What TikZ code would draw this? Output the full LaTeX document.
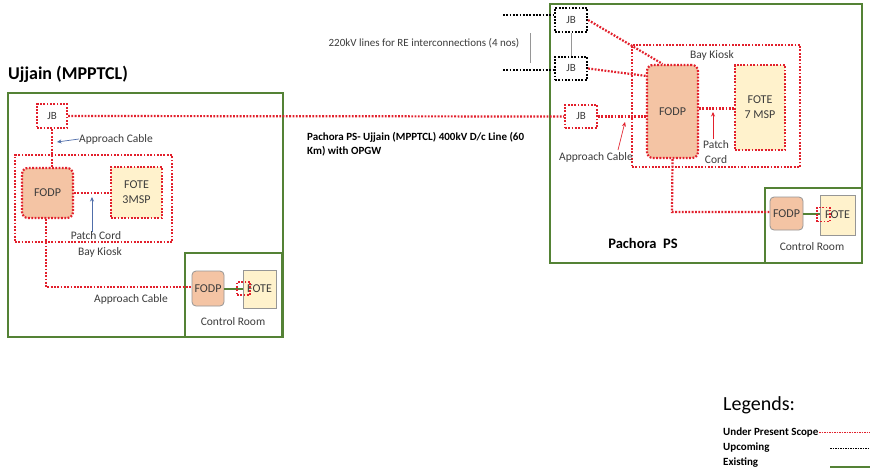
\documentclass[tikz,border=0pt]{standalone}
\usepackage{fontspec}
\setmainfont{Carlito}
\usetikzlibrary{arrows.meta}
\definecolor{redc}{RGB}{226,32,44}
\definecolor{greenc}{RGB}{84,130,53}
\definecolor{peach}{RGB}{244,196,164}
\definecolor{creamc}{RGB}{255,242,204}
\definecolor{grayc}{RGB}{150,150,150}
\definecolor{bluec}{RGB}{80,110,170}
\definecolor{txtc}{RGB}{60,60,60}
\tikzset{
  reddot/.style={draw=redc, line width=2.2pt, dash pattern=on 1.8pt off 1.5pt},
  blackdot/.style={draw=black, line width=2.2pt, dash pattern=on 1.8pt off 1.5pt},
  greenbox/.style={draw=greenc, line width=2pt},
  jbbox/.style={reddot, minimum width=30pt, minimum height=24pt, inner sep=0pt, font=\fontsize{11}{12}\selectfont, text=txtc},
  upjb/.style={blackdot, minimum width=32pt, minimum height=24pt, inner sep=0pt, font=\fontsize{11}{12}\selectfont, text=txtc},
  fodpbox/.style={reddot, fill=peach, rounded corners=6pt, inner sep=0pt, font=\fontsize{12}{13}\selectfont, text=txtc},
  fotebox/.style={reddot, fill=creamc, inner sep=0pt, align=center, font=\fontsize{12}{15}\selectfont, text=txtc},
  crfodp/.style={draw=grayc, line width=0.8pt, fill=peach, rounded corners=4pt, inner sep=0pt, font=\fontsize{12}{13}\selectfont, text=txtc},
  crfote/.style={draw=grayc, line width=0.8pt, fill=creamc, inner sep=0pt, font=\fontsize{12}{13}\selectfont, text=txtc},
  lbl/.style={font=\fontsize{11.5}{15}\selectfont, text=txtc, inner sep=0pt, align=center},
  boldlbl/.style={font=\bfseries\fontsize{11}{14}\selectfont, text=black, inner sep=0pt, align=left},
  kiosk/.style={reddot, inner sep=0pt},
  exist/.style={draw=greenc, line width=2pt},
  ptr/.style={-{Stealth[length=4.5pt,width=4pt]}, line width=0.7pt}
}
\begin{document}
\begin{tikzpicture}[x=1pt,y=-1pt]
\useasboundingbox (0,0) rectangle (870,475);
\fill[white] (0,0) rectangle (870,475);

% ---------------- Ujjain ----------------
\node[font=\bfseries\fontsize{18}{21}\selectfont, anchor=west, inner sep=0pt] (ujt) at (8,74) {Ujjain (MPPTCL)};
\node[greenbox, minimum width=275pt, minimum height=244pt, inner sep=0pt] (ujbox) at (145.5,215) {};
\node[kiosk, minimum width=157pt, minimum height=87pt] (kioskL) at (93.5,198.5) {};
\node[jbbox] (jbL) at (52,116) {JB};
\node[fodpbox, minimum width=51pt, minimum height=50pt] (fodpL) at (47.5,193) {FODP};
\node[fotebox, minimum width=51pt, minimum height=51pt] (foteL) at (136.5,192.5) {FOTE\\3MSP};
\node[greenbox, minimum width=97pt, minimum height=84pt, inner sep=0pt] (crL) at (233.5,295) {};
\node[crfodp, minimum width=32pt, minimum height=35pt] (fodpCRL) at (208,288.5) {FODP};
\node[crfote, minimum width=33pt, minimum height=38pt] (foteCRL) at (259.5,289) {FOTE};
\draw[exist] (fodpCRL.east) -- (fodpCRL.east -| foteCRL.west);
\node[reddot, line width=1.5pt, minimum width=13pt, minimum height=13pt, inner sep=0pt] (sqL) at (243.5,288.5) {};

\draw[reddot] (jbL.south) -- (jbL.south |- fodpL.north);
\draw[reddot] (fodpL.east) -- (fodpL.east -| foteL.west);
\coordinate (cL) at (46,287);
\draw[reddot] (fodpL.south -| cL) -- (cL) -- (cL -| fodpCRL.west);

\node[lbl, anchor=west] (acL1) at (79,139) {Approach Cable};
\coordinate (acL1p) at (57,142);
\draw[ptr, bluec] (acL1.west) -- (acL1p);
\node[lbl] (pcL) at (96,236) {Patch Cord};
\coordinate (pcLp) at (92,197);
\draw[ptr, bluec] ([xshift=-4pt]pcL.north) -- (pcLp);
\node[lbl] (bkL) at (100,252) {Bay Kiosk};
\node[lbl] (acL2) at (131,299) {Approach Cable};
\node[lbl] (crLt) at (233,322) {Control Room};

% ---------------- Line label ----------------
\node[boldlbl, anchor=north west] (linet) at (307,132) {Pachora PS- Ujjain (MPPTCL) 400kV D/c Line (60\\Km) with OPGW};

% ---------------- Pachora ----------------
\node[greenbox, minimum width=312pt, minimum height=259pt, inner sep=0pt] (pbox) at (706,133.5) {};
\node[upjb] (jb1) at (571,20) {JB};
\node[upjb, minimum height=23pt] (jb2) at (571,68.5) {JB};
\draw[grayc, line width=0.8pt] (jb1.south) -- (jb2.north);
\coordinate (u1) at (503,15);
\coordinate (u2) at (503,70);
\draw[blackdot] (u1) -- (u1 -| jb1.west);
\draw[blackdot] (u2) -- (u2 -| jb2.west);
\coordinate (g1) at (530,33);
\coordinate (g2) at (530,63);
\draw[grayc, line width=0.8pt] (g1) -- (g2);
\node[lbl, font=\fontsize{11}{13}\selectfont] (ret) at (424,43) {220kV lines for RE interconnections (4 nos)};

\node[jbbox, minimum width=32pt, minimum height=23pt] (jbR) at (581,116.5) {JB};
\node[kiosk, minimum width=168pt, minimum height=122pt] (kioskR) at (716,106) {};
\node[fodpbox, minimum width=51pt, minimum height=93pt] (fodpR) at (672.5,111.5) {FODP};
\node[fotebox, minimum width=50pt, minimum height=85pt] (foteR) at (760,107.5) {FOTE\\7 MSP};
\node[greenbox, minimum width=97pt, minimum height=75pt, inner sep=0pt] (crR) at (813.5,225.5) {};
\node[crfodp, minimum width=33pt, minimum height=33pt] (fodpCRR) at (786.5,213.5) {FODP};
\node[crfote, minimum width=35pt, minimum height=40pt] (foteCRR) at (837.5,215) {FOTE};
\draw[exist] (fodpCRR.east) -- (fodpCRR.east -| foteCRR.west);
\node[reddot, line width=1.5pt, minimum width=13pt, minimum height=14pt, inner sep=0pt] (sqR) at (823.5,214.5) {};

\draw[reddot] (jbL.east) -- (jbR.west);
\draw[reddot] (jb1.east) -- ([xshift=-10pt]fodpR.north);
\draw[reddot] (jb2.east) -- ([yshift=-12pt]fodpR.north west);
\draw[reddot] (jbR.east) -- (jbR.east -| fodpR.west);
\draw[reddot] ([yshift=3pt]fodpR.east) -- ([yshift=3pt]fodpR.east -| foteR.west);
\coordinate (cR) at (672,212);
\draw[reddot] (fodpR.south) -- (cR) -- (cR -| fodpCRR.west);

\node[lbl] (acR) at (596,157) {Approach Cable};
\coordinate (acRp) at (625,122);
\draw[ptr, redc] (618,150) -- (acRp);
\node[lbl] (pcR) at (716,152) {Patch\\Cord};
\coordinate (pcRp) at (713,112);
\draw[ptr, redc] (713,139) -- (pcRp);
\node[lbl] (bkR) at (712,55) {Bay Kiosk};
\node[font=\bfseries\fontsize{14.5}{17}\selectfont, inner sep=0pt] (pst) at (643,243) {Pachora\ \ PS};
\node[lbl] (crRt) at (812,247) {Control Room};

% ---------------- Legend ----------------
\node[font=\fontsize{20}{24}\selectfont, anchor=west, inner sep=0pt] (legt) at (723,405) {Legends:};
\node[boldlbl, anchor=west] (lg1) at (723,432) {Under Present Scope};
\node[boldlbl, anchor=west] (lg2) at (723,448) {Upcoming};
\node[boldlbl, anchor=west] (lg3) at (723,463) {Existing};
\coordinate (l1a) at (819,432); \coordinate (l1b) at (870,432);
\coordinate (l2a) at (830,448); \coordinate (l2b) at (870,448);
\coordinate (l3a) at (830,467); \coordinate (l3b) at (870,467);
\draw[draw=redc, line width=0.8pt, dash pattern=on 1.5pt off 1pt] (l1a) -- (l1b);
\draw[draw=black, line width=0.8pt, dash pattern=on 1.5pt off 1pt] (l2a) -- (l2b);
\draw[draw=greenc, line width=1.2pt] (l3a) -- (l3b);
\end{tikzpicture}
\end{document}
